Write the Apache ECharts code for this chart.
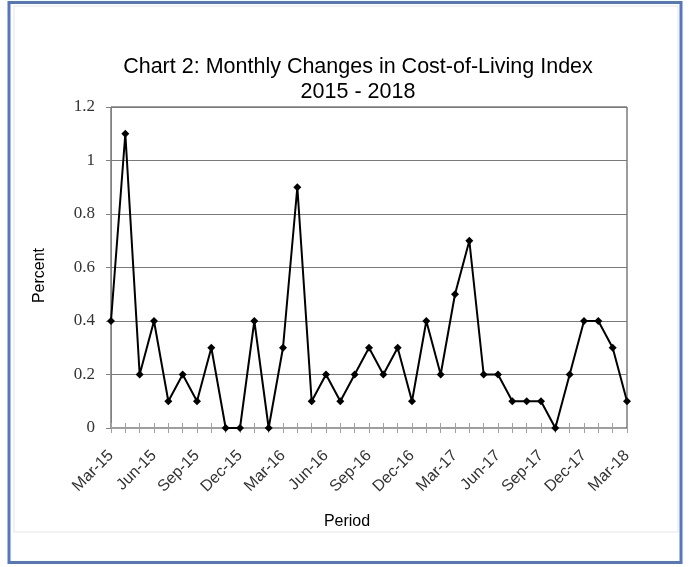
<!DOCTYPE html>
<html>
<head>
<meta charset="utf-8">
<script src="https://cdn.jsdelivr.net/npm/echarts@6/dist/echarts.min.js"></script>
<style>
  html, body { margin: 0; padding: 0; background: #ffffff; }
  #chart { width: 691px; height: 567px; }
</style>
</head>
<body>
<div id="chart"></div>
<script>
// Monthly periods, March 2015 through March 2018
const periods = [
  'Mar-15','Apr-15','May-15','Jun-15','Jul-15','Aug-15','Sep-15','Oct-15','Nov-15','Dec-15',
  'Jan-16','Feb-16','Mar-16','Apr-16','May-16','Jun-16','Jul-16','Aug-16','Sep-16','Oct-16','Nov-16','Dec-16',
  'Jan-17','Feb-17','Mar-17','Apr-17','May-17','Jun-17','Jul-17','Aug-17','Sep-17','Oct-17','Nov-17','Dec-17',
  'Jan-18','Feb-18','Mar-18'
];

// Month-on-month change in the cost-of-living index, percent
const changes = [
  0.4, 1.1, 0.2, 0.4, 0.1, 0.2, 0.1, 0.3, 0, 0,
  0.4, 0, 0.3, 0.9, 0.1, 0.2, 0.1, 0.2, 0.3, 0.2, 0.3, 0.1,
  0.4, 0.2, 0.5, 0.7, 0.2, 0.2, 0.1, 0.1, 0.1, 0, 0.2, 0.4,
  0.4, 0.3, 0.1
];

const yTicks = [0, 0.2, 0.4, 0.6, 0.8, 1, 1.2];

const titleLines = ['Chart 2: Monthly Changes in Cost-of-Living Index', '2015 - 2018'];

const chart = echarts.init(document.getElementById('chart'), null, { renderer: 'canvas' });

const sans = 'Liberation Sans, Arial, sans-serif';
const serif = 'Liberation Serif, Times New Roman, serif';

chart.setOption({
  backgroundColor: '#ffffff',
  animation: false,
  title: {
    text: titleLines.join('\n'),
    left: 353,
    top: 50,
    textAlign: 'center',
    textStyle: {
      fontFamily: sans,
      fontSize: 21.5,
      fontWeight: 'normal',
      color: '#000000',
      lineHeight: 25
    }
  },
  grid: {
    left: 111,
    right: 64,
    top: 107,
    bottom: 139,
    show: true,
    borderColor: '#3a3a3a',
    borderWidth: 1,
    backgroundColor: 'transparent'
  },
  xAxis: [
    {
      type: 'category',
      data: periods,
      boundaryGap: false,
      name: 'Period',
      nameLocation: 'middle',
      nameGap: 86,
      nameTextStyle: { fontFamily: sans, fontSize: 16, color: '#000000', padding: [0, 44, 0, 0] },
      axisLine: { lineStyle: { color: '#a0a0a0', width: 1 } },
      axisTick: { show: true, interval: 0, length: 5, lineStyle: { color: '#a0a0a0' } },
      axisLabel: {
        interval: 2,
        rotate: 45,
        margin: 25,
        fontFamily: sans,
        fontSize: 16,
        color: '#333333'
      },
      splitLine: { show: false }
    },
    {
      // mirror axis so the month ticks cross the baseline
      type: 'category',
      data: periods,
      boundaryGap: false,
      position: 'bottom',
      axisLine: { show: false },
      axisTick: { show: true, inside: true, interval: 0, length: 5, lineStyle: { color: '#a0a0a0' } },
      axisLabel: { show: false },
      splitLine: { show: false }
    }
  ],
  yAxis: {
    type: 'value',
    min: yTicks[0],
    max: yTicks[yTicks.length - 1],
    interval: 0.2,
    name: 'Percent',
    nameLocation: 'middle',
    nameGap: 63,
    nameRotate: 90,
    nameTextStyle: { fontFamily: sans, fontSize: 16, color: '#000000', padding: [0, 16, 0, 0] },
    axisLine: { show: true, lineStyle: { color: '#808080', width: 1 } },
    axisTick: { show: true, length: 5, lineStyle: { color: '#808080' } },
    axisLabel: {
      margin: 16,
      fontFamily: serif,
      fontSize: 17,
      color: '#333333',
      formatter: function (v) { return String(Math.round(v * 10) / 10); }
    },
    splitLine: { show: true, lineStyle: { color: '#7a7a7a', width: 1 } }
  },
  series: [
    {
      type: 'line',
      data: changes,
      symbol: 'diamond',
      symbolSize: 8,
      showAllSymbol: true,
      lineStyle: { color: '#000000', width: 2 },
      itemStyle: { color: '#000000' },
      z: 5
    }
  ],
  graphic: [
    {
      type: 'rect',
      shape: { x: 14, y: 6, width: 664, height: 526 },
      style: { fill: 'none', stroke: '#e6e6e6', lineWidth: 1 },
      silent: true,
      z: -1
    },
    {
      type: 'rect',
      shape: { x: 9, y: 2.5, width: 672, height: 560 },
      style: { fill: 'none', stroke: '#5577c0', lineWidth: 3 },
      silent: true,
      z: -1
    }
  ]
});
</script>
</body>
</html>
